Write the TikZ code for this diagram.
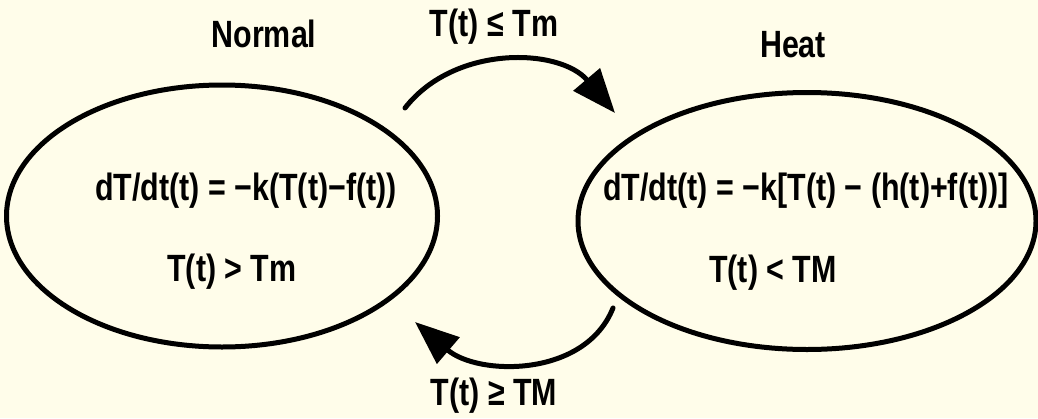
\documentclass[tikz,border=0pt]{standalone}
\usepackage{fontspec}
\setmainfont{Liberation Sans}[FakeStretch=0.8]
\usetikzlibrary{shapes.geometric,arrows.meta}
\definecolor{paper}{RGB}{255,253,234}
\begin{document}
\begin{tikzpicture}[x=1pt, y=-1pt, line cap=round, line join=round,
    state/.style={ellipse, draw, line width=5pt, inner sep=0pt},
    txt/.style={anchor=base, inner sep=0pt, font=\bfseries\fontsize{38}{42}\selectfont},
    flow/.style={line width=5pt, -{Triangle[length=44pt,width=34pt]}}]
  \fill[paper] (0,0) rectangle (1038,418);
  \useasboundingbox (0,0) rectangle (1038,418);
  % Normal
  \node[state, minimum width=431pt, minimum height=262pt] (normal) at (222,216) {};
  \node[txt] (normalname) at (264,47) {Normal};
  \node[txt] (normaleq) at (246,200) {dT/dt(t) = −k(T(t)−f(t))};
  \node[txt] (normalcond) at (232,281) {T(t) > Tm};
  % Heat
  \node[state, minimum width=458pt, minimum height=257pt] (heat) at (807,221) {};
  \node[txt] (heatname) at (793,57) {Heat};
  \node[txt] (heateq) at (806,200) {dT/dt(t) = −k[T(t) − (h(t)+f(t))]};
  \node[txt] (heatcond) at (773,282) {T(t) < TM};
  % transitions
  \coordinate (n2hs) at (405,108);
  \coordinate (n2ht) at (615,113);
  \coordinate (h2ns) at (613,308);
  \coordinate (h2nt) at (415,322);
  \draw[flow] (n2hs) .. controls (455,44) and (560,48) .. (n2ht);
  \draw[flow] (h2ns) .. controls (585,378) and (478,376) .. (h2nt);
  \node[txt] (upcond) at (494,36) {T(t) ≤ Tm};
  \node[txt] (downcond) at (494,405) {T(t) ≥ TM};
\end{tikzpicture}
\end{document}
